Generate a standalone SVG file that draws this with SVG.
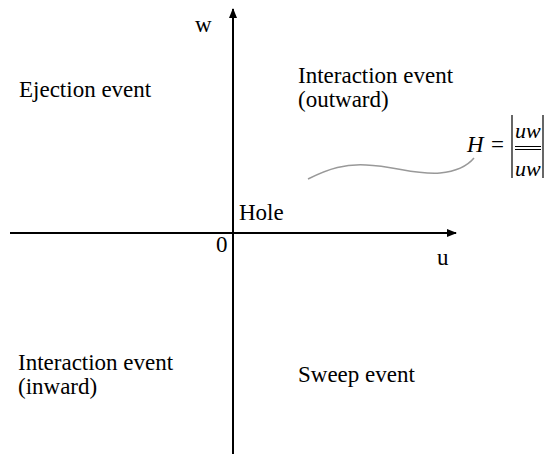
<svg xmlns="http://www.w3.org/2000/svg" width="546" height="454" viewBox="0 0 546 454">
<style>
text{font-family:"Liberation Serif","Times New Roman",serif;font-size:23px;fill:#000}
.it{font-style:italic}
.f{font-size:22px}
.ax{stroke:#000;stroke-width:2;fill:none}
</style>
<defs>
<marker id="ah" markerWidth="10" markerHeight="8" refX="9" refY="4" orient="auto" markerUnits="userSpaceOnUse">
<path d="M0,0 L10,4 L0,8 Z" fill="#000"/>
</marker>
</defs>
<rect width="546" height="454" fill="#fff"/>
<g id="connectors">
<line class="ax" x1="10" y1="233" x2="456" y2="233" marker-end="url(#ah)"/>
<line class="ax" x1="233" y1="454" x2="233" y2="9" marker-end="url(#ah)"/>
<path d="M308,179 C330,168 345,164 366,165 C395,166 415,175 440,173 C460,171 469,164 474,158" stroke="#999" stroke-width="1.5" fill="none"/>
</g>
<g id="labels">
<text x="195" y="32">w</text>
<text x="437" y="265">u</text>
<text x="216" y="252">0</text>
<text x="239" y="220">Hole</text>
</g>
<g id="ejection"><text x="19" y="97">Ejection event</text></g>
<g id="outward"><text x="298" y="83">Interaction event</text><text x="298" y="107">(outward)</text></g>
<g id="inward"><text x="18" y="370">Interaction event</text><text x="18" y="394">(inward)</text></g>
<g id="sweep"><text x="298" y="382">Sweep event</text></g>
<g id="formula">
<text class="it" x="467" y="152">H</text>
<text x="491" y="152">=</text>
<line x1="512" y1="115" x2="512" y2="178" stroke="#000" stroke-width="1.2"/>
<line x1="543" y1="115" x2="543" y2="178" stroke="#000" stroke-width="1.2"/>
<text class="it f" x="515" y="138">uw</text>
<line x1="515" y1="146.5" x2="541" y2="146.5" stroke="#000" stroke-width="1"/>
<line x1="515" y1="149.5" x2="541" y2="149.5" stroke="#000" stroke-width="1"/>
<text class="it f" x="515" y="176">uw</text>
</g>
</svg>
